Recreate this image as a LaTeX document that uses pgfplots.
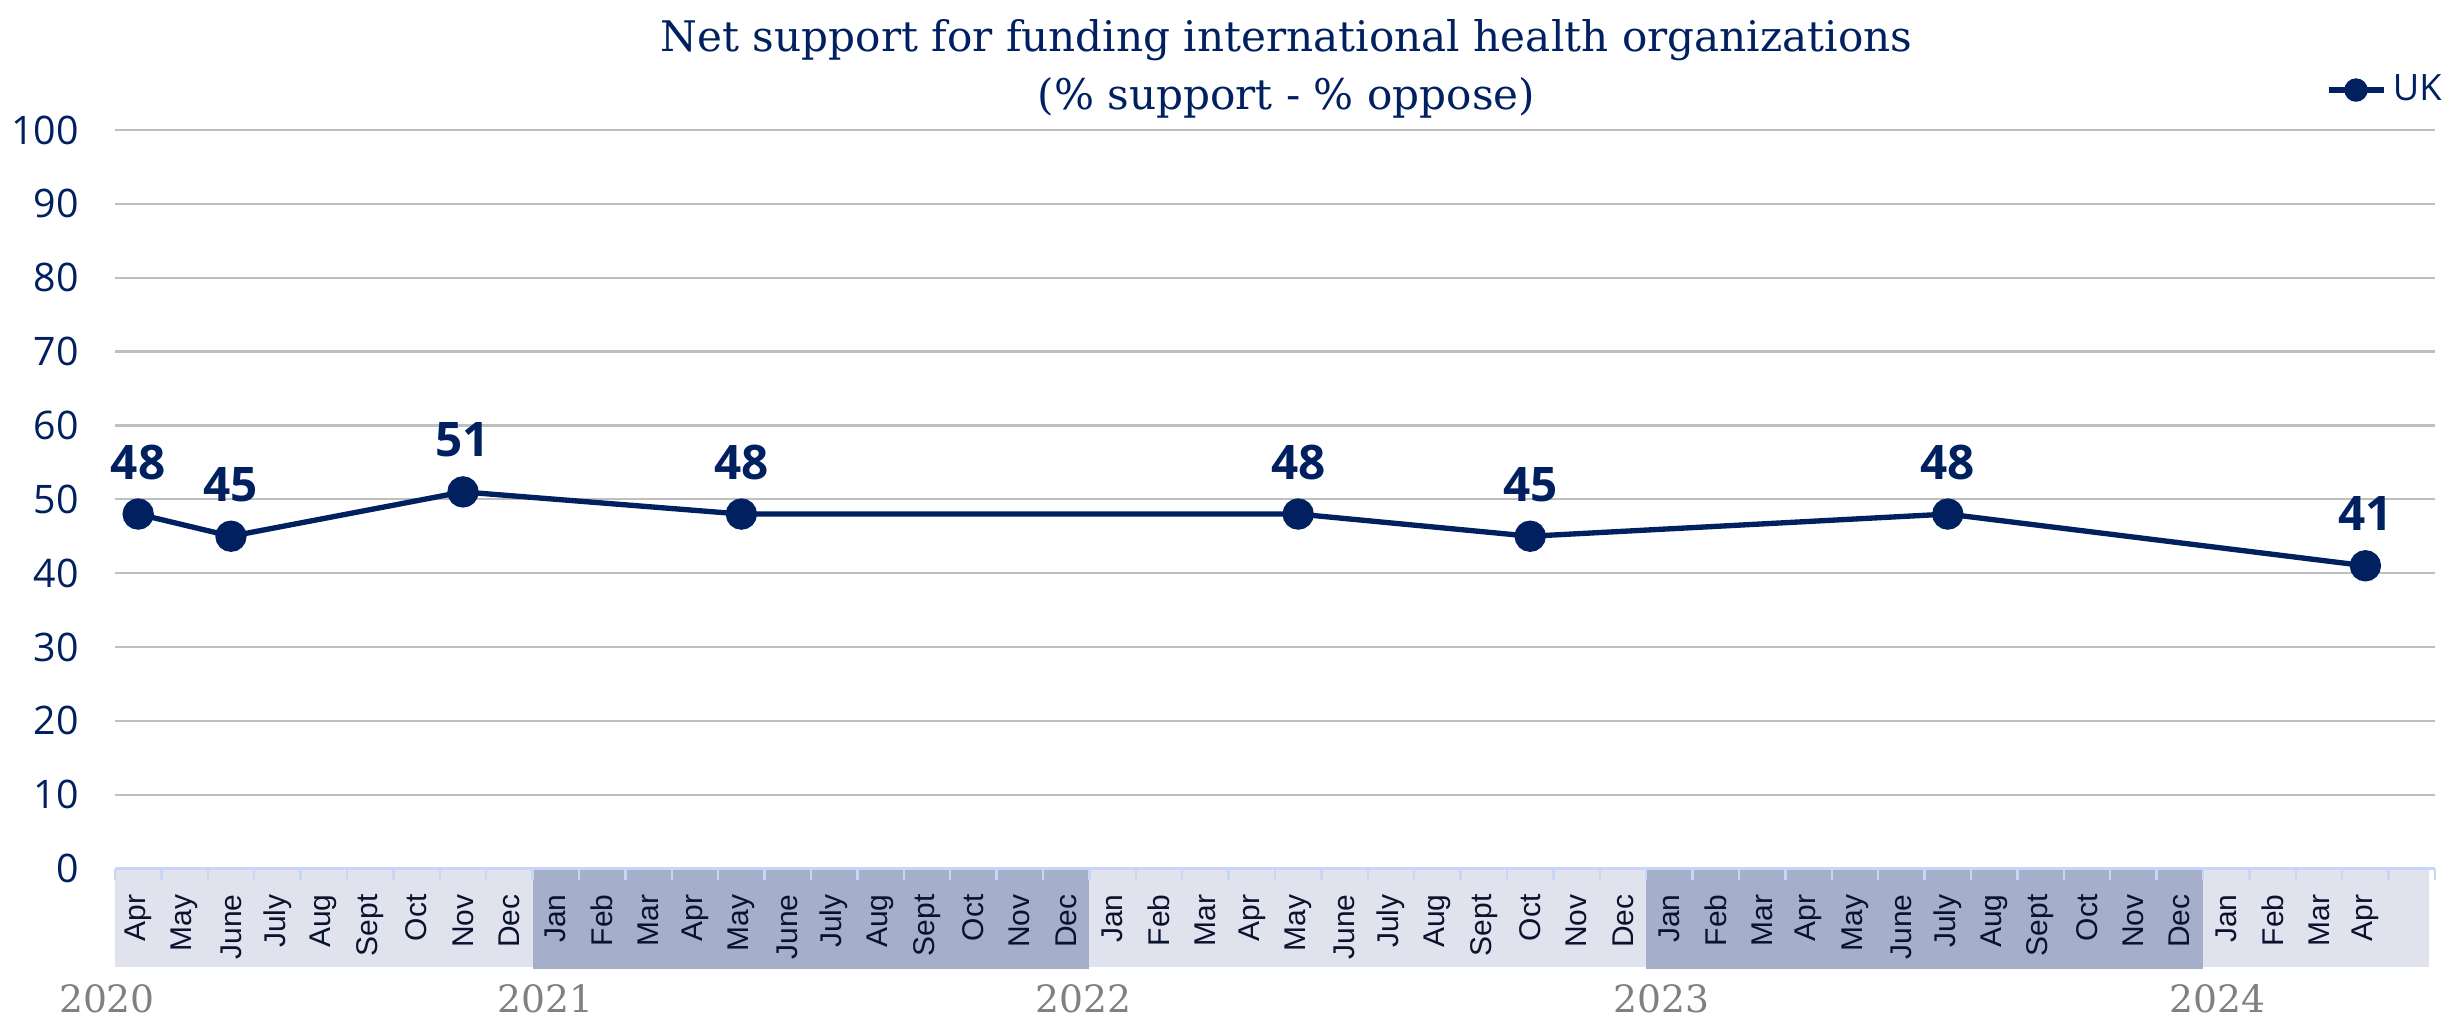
\documentclass[border=0pt]{standalone}
\usepackage{fontspec}
\usepackage{pgfplots}
\usepackage{pgfplotstable}
\pgfplotsset{compat=1.18}
\setmainfont{Liberation Sans}
\newfontfamily\titlefont{DejaVu Serif}
\newfontfamily\yearfont{DejaVu Serif}
\newfontfamily\uifont{Open Sans}

\definecolor{navy}{RGB}{0,32,96}
\definecolor{bandlight}{RGB}{224,227,238}
\definecolor{banddark}{RGB}{165,175,202}
\definecolor{tickblue}{RGB}{200,214,245}
\definecolor{gridgray}{RGB}{191,191,191}
\definecolor{yeargray}{RGB}{128,128,128}
\definecolor{monthink}{RGB}{10,18,45}

% month index (0 = Apr 2020) and net support
\pgfplotstableread{
idx val
0 48
2 45
7 51
13 48
25 48
30 45
39 48
48 41
}\uk

\begin{document}
\begin{tikzpicture}
% page frame
\path (0pt,0pt) rectangle (735.9pt,306pt);
\begin{axis}[
  at={(34.2pt,45.3pt)}, anchor=south west,
  scale only axis, width=696.3pt, height=221.7pt,
  xmin=-0.5, xmax=49.5, ymin=0, ymax=100,
  clip=false, set layers,
  axis x line*=bottom, axis y line*=left,
  x axis line style={draw=tickblue, line width=0.7pt, -},
  y axis line style={draw=none},
  ytick={0,10,...,100},
  ymajorgrids, grid style={gridgray, line width=0.7pt},
  ytick style={draw=none},
  major x tick style={draw=none},
  xtick={0,...,49},
  xticklabels={Apr,May,June,July,Aug,Sept,Oct,Nov,Dec,
    Jan,Feb,Mar,Apr,May,June,July,Aug,Sept,Oct,Nov,Dec,
    Jan,Feb,Mar,Apr,May,June,July,Aug,Sept,Oct,Nov,Dec,
    Jan,Feb,Mar,Apr,May,June,July,Aug,Sept,Oct,Nov,Dec,
    Jan,Feb,Mar,Apr,{}},
  minor xtick={-0.5,0.5,...,49.5},
  minor x tick style={draw=tickblue, line width=0.7pt},
  tick align=outside, major tick length=0pt, minor tick length=3.3pt,
  xticklabel style={rotate=90, anchor=east, font=\fontsize{9}{9}\selectfont, text=monthink},
  xticklabel shift=4.2pt,
  yticklabel style={font=\uifont\fontsize{11.8}{11.8}\selectfont, text=navy},
  yticklabel shift=7.4pt,
  /pgf/number format/assume math mode=true,
  legend style={at={(1.006,1.054)}, anchor=east, draw=none, fill=none, inner sep=0pt,
    font=\uifont\fontsize{10.9}{10.9}\selectfont, text=navy},
  legend image code/.code={\draw[#1,mark repeat=2,mark phase=2,mark size=2.7pt]
    plot coordinates {(0cm,0cm)(0.29cm,0cm)(0.58cm,0cm)};},
]
\begin{pgfonlayer}{axis background}
  \fill[bandlight] (axis cs:-0.5,0) rectangle (axis cs:8.5,-13.26);
  \fill[banddark]  (axis cs:8.5,0)  rectangle (axis cs:20.5,-13.53);
  \fill[bandlight] (axis cs:20.5,0) rectangle (axis cs:32.5,-13.26);
  \fill[banddark]  (axis cs:32.5,0) rectangle (axis cs:44.5,-13.53);
  \fill[bandlight] (axis cs:44.5,0) rectangle (axis cs:49.37,-13.26);
\end{pgfonlayer}
\addplot[navy, line width=1.6pt, mark=*, mark size=3.9pt,
  mark options={fill=navy, draw=navy},
  nodes near coords,
  nodes near coords style={font=\uifont\bfseries\fontsize{14.3}{14.3}\selectfont,
    text=navy, anchor=base, yshift=10.5pt}]
  table[x=idx, y=val] {\uk};
\addlegendentry{UK}
\end{axis}
% title
\node[anchor=base, inner sep=0pt, font=\titlefont\fontsize{12.65}{12.65}\selectfont, text=navy]
  at (385.8pt,290.4pt) {Net support for funding international health organizations};
\node[anchor=base, inner sep=0pt, font=\titlefont\fontsize{12.65}{12.65}\selectfont, text=navy]
  at (385.8pt,273pt) {(\% support - \% oppose)};
% year labels
\foreach \xx/\yr in {31.8/2020,163.5/2021,324.9/2022,498.3/2023,665.1/2024}
  \node[anchor=base, inner sep=0pt, font=\yearfont\fontsize{11.3}{11.3}\selectfont, text=yeargray]
    at (\xx pt,2.1pt) {\yr};
\end{tikzpicture}
\end{document}
